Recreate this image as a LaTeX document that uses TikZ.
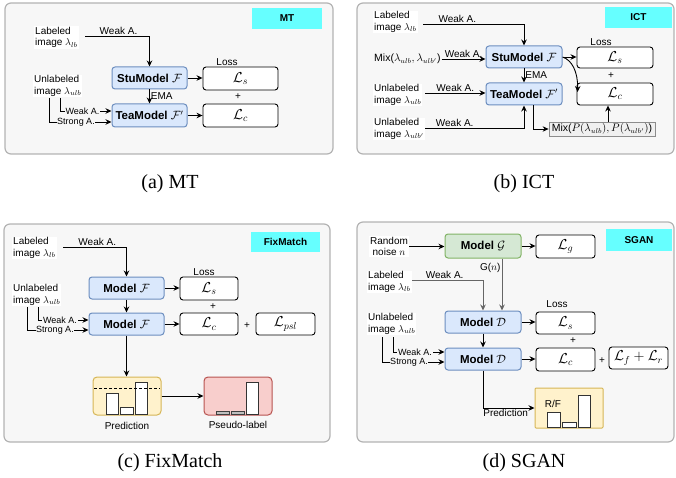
\documentclass[tikz,border=0pt]{standalone}
\usepackage{fontspec}
\setmainfont{Liberation Serif}
\newfontfamily\hv{Liberation Sans}
\usetikzlibrary{arrows.meta,calc}
\definecolor{panelbg}{HTML}{F7F7F7}
\definecolor{panelbd}{HTML}{B3B3B3}
\definecolor{badgecol}{HTML}{66FFFF}
\definecolor{blueF}{HTML}{DAE8FC}
\definecolor{blueD}{HTML}{6C8EBF}
\definecolor{greenF}{HTML}{D5E8D4}
\definecolor{greenD}{HTML}{82B366}
\definecolor{yelF}{HTML}{FFF2CC}
\definecolor{yelD}{HTML}{D6B656}
\definecolor{redF}{HTML}{F8CECC}
\definecolor{redD}{HTML}{B85450}
\definecolor{mixF}{HTML}{F0F0F0}
\definecolor{mixD}{HTML}{8C8C8C}
\begin{document}
\begin{tikzpicture}[x=1pt,y=-1pt,
 panel/.style={draw=panelbd, fill=panelbg, line width=1.2pt, rounded corners=6pt},
 badgebox/.style={fill=badgecol, inner sep=0pt, font=\hv\bfseries\fontsize{10}{12}\selectfont},
 model/.style={draw=blueD, fill=blueF, line width=1pt, rounded corners=3pt, inner sep=0pt, font=\hv\bfseries\fontsize{11.5}{13}\selectfont},
 gmodel/.style={model, draw=greenD, fill=greenF},
 lossbox/.style={draw=black, fill=white, line width=0.9pt, rounded corners=3pt, inner sep=0pt, font=\fontsize{14}{16}\selectfont},
 txt/.style={font=\hv\fontsize{10}{11.5}\selectfont, align=left, inner sep=1pt},
 intxt/.style={txt, fill=white},
 sm/.style={font=\hv\fontsize{9}{10}\selectfont, inner sep=0.6pt, fill=panelbg},
 arr/.style={line width=0.9pt, -{Stealth[length=6pt,width=5.5pt]}},
 gline/.style={draw=black!60},
 capt/.style={font=\fontsize{20}{24}\selectfont, inner sep=0pt},
 bar/.style={draw=black!80, fill=white, line width=0.9pt},
 sbar/.style={draw=black!75, fill=gray!50, line width=0.7pt},
 predbox/.style={draw=yelD, fill=yelF, line width=1pt, rounded corners=4pt, inner sep=0pt},
 pseudobox/.style={draw=redD, fill=redF, line width=1pt, rounded corners=4pt, inner sep=0pt}
]
\path[use as bounding box] (0,0) rectangle (676,478);

% ---------------- Panel (a) MT ----------------
\draw[panel] (5,3) rectangle (333,154);
\node[badgebox, minimum width=70pt, minimum height=21pt] (bA) at (287,18.5) {MT};
\node[intxt, anchor=west] (labA) at (34,37.5) {Labeled\\image $\lambda_{lb}$};
\node[model, minimum width=75pt, minimum height=22pt] (stuA) at (149.5,78) {StuModel $\mathcal{F}$};
\node[model, minimum width=75pt, minimum height=23pt] (teaA) at (149.5,115.5) {TeaModel $\mathcal{F}'$};
\node[lossbox, minimum width=75pt, minimum height=23pt] (lsA) at (240.5,78.5) {$\mathcal{L}_s$};
\node[lossbox, minimum width=75pt, minimum height=23pt] (lcA) at (240.5,115.5) {$\mathcal{L}_c$};
\node[txt] (lossA) at (227,62) {Loss};
\node[txt] (plusA) at (238,97) {+};
\node[intxt, anchor=west] (unlA) at (33,86) {Unlabeled\\image $\lambda_{ulb}$};
\coordinate (sA) at (85,36);
\draw[arr] (sA) -| (stuA.north) node[pos=0.26, above, txt] {Weak A.};
\draw[arr] (stuA.south) -- (teaA.north) node[midway, right, txt] {EMA};
\draw[arr] (stuA.east) -- (stuA.east -| lsA.west);
\draw[arr] (teaA.east) -- (lcA.west);
\coordinate (wA) at (60,98);
\coordinate (stA) at (49,98);
\draw[arr] (wA) |- ($(teaA.west)+(0,-4.5)$);
\draw[arr] (stA) |- ($(teaA.west)+(0,6.5)$);
\node[sm] (wlA) at (82.5,111) {Weak A.};
\node[sm] (slA) at (76,122) {Strong A.};

% ---------------- Panel (b) ICT ----------------
\draw[panel] (357,3) rectangle (674,154);
\node[badgebox, minimum width=67pt, minimum height=21pt] (bB) at (638.5,17.5) {ICT};
\node[intxt, anchor=west] (labB) at (373,22) {Labeled\\image $\lambda_{lb}$};
\node[model, minimum width=76pt, minimum height=22pt] (stuB) at (524,57) {StuModel $\mathcal{F}$};
\node[model, minimum width=76pt, minimum height=22pt] (teaB) at (524,94) {TeaModel $\mathcal{F}'$};
\node[lossbox, minimum width=76pt, minimum height=21pt] (lsB) at (615,57.5) {$\mathcal{L}_s$};
\node[lossbox, minimum width=76pt, minimum height=22pt] (lcB) at (615,94) {$\mathcal{L}_c$};
\node[txt] (lossB) at (601,42) {Loss};
\node[txt] (plusB) at (611,76) {+};
\coordinate (sB) at (423,24);
\draw[arr] (sB) -| (stuB.north) node[pos=0.17, above, txt] {Weak A.};
\node[txt, anchor=west, font=\hv\fontsize{10.5}{12}\selectfont] (mixB) at (373,59) {Mix($\lambda_{ulb},\lambda_{ulb'}$)};
\draw[arr] (mixB.east) -- (mixB.east -| stuB.west) node[midway, above, txt] {Weak A.};
\draw[arr] (stuB.south) -- (teaB.north) node[midway, right, txt] {EMA};
\draw[arr] (stuB.east) -- (stuB.east -| lsB.west);
\draw[arr] (stuB.east) .. controls (572,60) and (578,72) .. ($(lcB.west)+(1,-2)$);
\node[intxt, anchor=west] (unlB) at (373,95) {Unlabeled\\image $\lambda_{ulb}$};
\coordinate (uB) at (425,93);
\draw[arr] (uB) -- (uB -| teaB.west) node[midway, above, txt] {Weak A.};
\node[intxt, anchor=west] (unlB2) at (373,129) {Unlabeled\\image $\lambda_{ulb'}$};
\coordinate (u2B) at (425,128);
\draw[arr] (u2B) -| (teaB.south) node[pos=0.15, above, txt] {Weak A.};
\node[draw=mixD, fill=mixF, line width=0.8pt, inner sep=0pt, minimum width=106pt, minimum height=14pt, font=\hv\fontsize{10.5}{12}\selectfont] (mixP) at (602,129) {Mix($P(\lambda_{ulb}),P(\lambda_{ulb'})$)};
\draw[arr] ($(teaB.south)+(9,0)$) |- (mixP.west);
\coordinate (mB) at (608,122);
\draw[arr] (mB) -- (mB |- lcB.south);

% ---------------- Panel (c) FixMatch ----------------
\draw[panel] (4,224) rectangle (330,442);
\node[badgebox, minimum width=69pt, minimum height=20pt] (bC) at (285.5,242) {FixMatch};
\node[intxt, anchor=west] (labC) at (12,248) {Labeled\\image $\lambda_{lb}$};
\node[model, minimum width=75pt, minimum height=22pt] (mC1) at (126.5,288) {Model $\mathcal{F}$};
\node[model, minimum width=75pt, minimum height=22pt] (mC2) at (126.5,324) {Model $\mathcal{F}$};
\node[lossbox, minimum width=58pt, minimum height=23pt] (lsC) at (209,288.5) {$\mathcal{L}_s$};
\node[lossbox, minimum width=58pt, minimum height=22pt] (lcC) at (209,324) {$\mathcal{L}_c$};
\node[lossbox, minimum width=59pt, minimum height=22pt] (lpC) at (285.5,324) {$\mathcal{L}_{psl}$};
\node[txt] (lossC) at (204,272) {Loss};
\node[txt] (plusC1) at (213,307) {+};
\node[txt] (plusC2) at (247,326) {+};
\coordinate (sC) at (63,247);
\draw[arr] (sC) -| (mC1.north) node[pos=0.27, above, txt] {Weak A.};
\draw[arr] (mC1.south) -- (mC2.north);
\draw[arr] (mC1.east) -- (mC1.east -| lsC.west);
\draw[arr] (mC2.east) -- (lcC.west);
\node[intxt, anchor=west] (unlC) at (12,295) {Unlabeled\\image $\lambda_{ulb}$};
\coordinate (wC) at (38,307);
\coordinate (stC) at (27,307);
\draw[arr] (wC) |- ($(mC2.west)+(0,-4)$);
\draw[arr] (stC) |- ($(mC2.west)+(0,6)$);
\node[sm] (wlC) at (60,320) {Weak A.};
\node[sm] (slC) at (55,330) {Strong A.};
\node[predbox, minimum width=68pt, minimum height=38pt] (predC) at (127,396) {};
\draw[bar] (106,393) rectangle (118,414);
\draw[bar] (120,407) rectangle (133,414);
\draw[bar] (135,382) rectangle (147,414);
\draw[dashed, line width=0.8pt, dash pattern=on 3pt off 2pt] (94,388) -- (160,388);
\node[txt] (predCt) at (127,426) {Prediction};
\draw[arr] (mC2.south) -- (mC2.south |- predC.north);
\node[pseudobox, minimum width=68pt, minimum height=38pt] (pseC) at (238,396) {};
\draw[sbar] (216,411.5) rectangle (229,414);
\draw[sbar] (231,411.5) rectangle (244,414);
\draw[bar] (246,382) rectangle (258,414);
\node[txt] (pseCt) at (238,425) {Pseudo-label};
\draw[arr] (predC.east) -- (pseC.west);

% ---------------- Panel (d) SGAN ----------------
\draw[panel] (357,222) rectangle (674,442);
\node[badgebox, minimum width=66pt, minimum height=22pt] (bD) at (639,240) {SGAN};
\node[intxt, align=center] (noiseD) at (389,246.5) {Random\\noise $n$};
\node[gmodel, minimum width=76pt, minimum height=24pt] (mG) at (483,246) {Model $\mathcal{G}$};
\node[lossbox, minimum width=59pt, minimum height=23pt] (lgD) at (565.5,246.5) {$\mathcal{L}_g$};
\draw[arr] (noiseD.east) -- (noiseD.east -| mG.west);
\draw[arr] (mG.east) -- (mG.east -| lgD.west);
\node[model, minimum width=76pt, minimum height=22pt] (mD1) at (483,322) {Model $\mathcal{D}$};
\node[model, minimum width=76pt, minimum height=22pt] (mD2) at (483,359) {Model $\mathcal{D}$};
\node[lossbox, minimum width=59pt, minimum height=22pt] (lsD) at (565.5,323) {$\mathcal{L}_s$};
\node[lossbox, minimum width=59pt, minimum height=23pt] (lcD) at (565.5,359.5) {$\mathcal{L}_c$};
\node[lossbox, minimum width=59pt, minimum height=22pt] (lfrD) at (638.5,358) {$\mathcal{L}_f+\mathcal{L}_r$};
\node[txt] (lossD) at (557,304) {Loss};
\node[txt] (plusD1) at (573,341) {+};
\node[txt] (plusD2) at (602,361) {+};
\draw[arr, gline] ($(mG.south)+(19,0)$) -- ($(mD1.north)+(19,0)$) node[pos=0.18, left, txt] {G($n$)};
\node[intxt, anchor=west] (labD) at (367,282) {Labeled\\image $\lambda_{lb}$};
\coordinate (sD) at (412,280);
\draw[arr, gline] (sD) -| (mD1.north) node[pos=0.23, above, txt, black] {Weak A.};
\draw[arr] (mD1.south) -- (mD2.north);
\draw[arr] (mD1.east) -- (mD1.east -| lsD.west);
\draw[arr] (mD2.east) -- (mD2.east -| lcD.west);
\node[intxt, anchor=west] (unlD) at (367,324) {Unlabeled\\image $\lambda_{ulb}$};
\coordinate (wD) at (393,337);
\coordinate (stD) at (382,337);
\draw[arr] (wD) |- ($(mD2.west)+(0,-7)$);
\draw[arr] (stD) |- ($(mD2.west)+(0,3)$);
\node[sm] (wlD) at (415,352) {Weak A.};
\node[sm] (slD) at (409,362) {Strong A.};
\node[predbox, rounded corners=1pt, minimum width=68pt, minimum height=40pt] (rfD) at (569,408) {};
\draw[arr] (mD2.south) |- (rfD.west) node[pos=0.72, below, txt] {Prediction};
\node[txt] (rfDt) at (553,404) {R/F};
\draw[bar] (547,412) rectangle (560,427);
\draw[bar] (562,422) rectangle (576,427);
\draw[bar] (578,395) rectangle (590,427);

% ---------------- Captions ----------------
\node[capt] (capA) at (170,184) {(a) MT};
\node[capt] (capB) at (524,184) {(b) ICT};
\node[capt] (capC) at (170,463) {(c) FixMatch};
\node[capt] (capD) at (524,463) {(d) SGAN};
\end{tikzpicture}
\end{document}
